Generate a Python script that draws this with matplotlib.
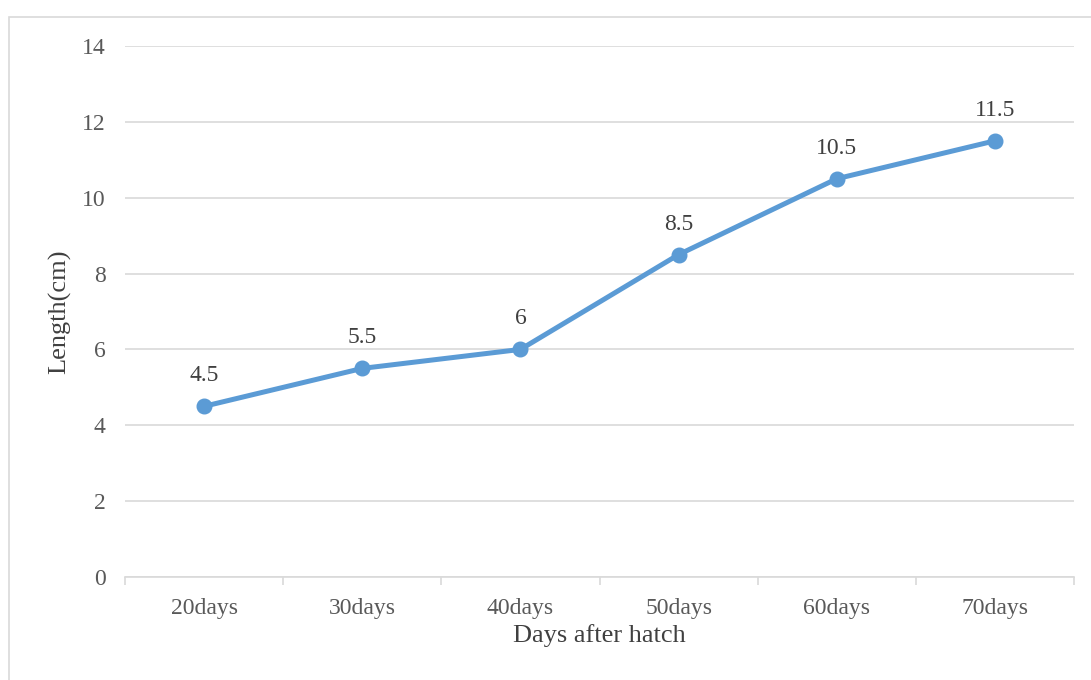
import matplotlib
matplotlib.use("Agg")
import matplotlib.pyplot as plt
from matplotlib.patches import Rectangle
import numpy as np

categories = ["20days", "30days", "40days", "50days", "60days", "70days"]
lengths = [4.5, 5.5, 6, 8.5, 10.5, 11.5]
value_labels = ["4.5", "5.5", "6", "8.5", "10.5", "11.5"]
y_ticks = [0, 2, 4, 6, 8, 10, 12, 14]

plt.rcParams["font.family"] = ["Liberation Serif", "DejaVu Serif"]

fig = plt.figure(figsize=(10.91, 6.80), dpi=100)
fig.patch.set_facecolor("white")

# light frame around the chart area
fig.add_artist(Rectangle((9 / 1091, -0.05), 1.2, 0.05 + 1 - 17.5 / 680,
                         transform=fig.transFigure, fill=False,
                         edgecolor="#D9D9D9", linewidth=1.2))

ax = fig.add_axes([125 / 1091, 103 / 680, 949 / 1091, 531 / 680])

x = np.arange(len(categories))
line_color = "#5B9BD5"
ax.plot(x, lengths, color=line_color, linewidth=3.6, marker="o",
        markersize=10.5, markerfacecolor=line_color, markeredgecolor=line_color,
        solid_capstyle="round", zorder=3)

for xi, yi, lab in zip(x, lengths, value_labels):
    ax.annotate(lab, (xi, yi), xytext=(0, 22), textcoords="offset points",
                ha="center", va="center", fontsize=17, color="#404040")

ax.set_xlim(-0.5, len(categories) - 0.5)
ax.set_ylim(0, 14)
ax.set_yticks(y_ticks)
ax.set_yticklabels([str(v) for v in y_ticks])
ax.set_xticks(x)
ax.set_xticklabels(categories)
ax.set_xticks(np.arange(-0.5, len(categories)), minor=True)

ax.grid(axis="y", color="#D9D9D9", linewidth=1.2, zorder=0)
ax.set_axisbelow(True)

for side in ["top", "right", "left"]:
    ax.spines[side].set_visible(False)
ax.spines["bottom"].set_color("#D9D9D9")
ax.spines["bottom"].set_linewidth(1.2)

ax.tick_params(axis="y", length=0, pad=14, labelsize=17, labelcolor="#595959")
ax.tick_params(axis="x", which="major", length=0, pad=15, labelsize=17,
               labelcolor="#595959")
ax.tick_params(axis="x", which="minor", length=6, width=1.2, color="#D9D9D9")

ax.set_xlabel("Days after hatch", fontsize=19, color="#404040")
ax.set_ylabel("Length(cm)", fontsize=19, color="#404040")
ax.xaxis.set_label_coords(0.5, -(636 - 577) / 531, transform=ax.transAxes)
ax.xaxis.label.set_va("center")
ax.yaxis.set_label_coords(-(125 - 60) / 949, 0.5, transform=ax.transAxes)
ax.yaxis.label.set_va("center")

fig.savefig("out.png", dpi=100, facecolor="white")
